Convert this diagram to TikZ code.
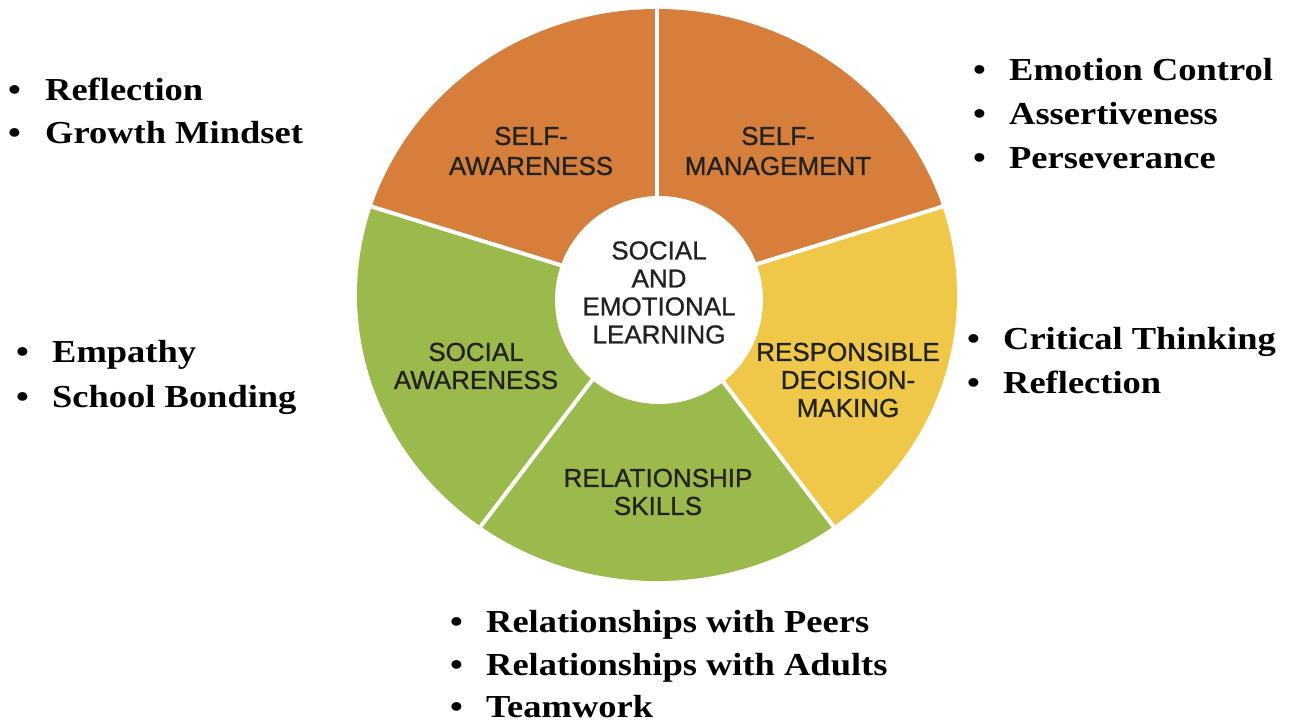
\documentclass[tikz,border=0pt]{standalone}
\usepackage{fontspec}
\setmainfont{Liberation Serif}[FakeStretch=1.14]
\setsansfont{Liberation Sans}
\newfontfamily\wheelfont{Liberation Sans}[FakeBold=0.9]
\definecolor{selorange}{HTML}{D67E3C}
\definecolor{selyellow}{HTML}{EFC84A}
\definecolor{selgreen}{HTML}{9CB94C}
\definecolor{labelgray}{HTML}{222222}
\begin{document}
\begin{tikzpicture}[x=1pt,y=1pt,
  wheeltext/.style={font=\wheelfont\fontsize{26}{28}\selectfont, text=labelgray, align=center, inner sep=0pt},
  bulletline/.style={font=\bfseries\fontsize{32}{40}\selectfont, anchor=base west, inner sep=0pt},
  sepline/.style={white, line width=4pt}]
\path[use as bounding box] (0,0) rectangle (1289,-723);
\coordinate (c) at (657,-295);
% sectors
\fill[selorange] (c) -- ++(90:300 and 286) arc[start angle=90,end angle=162,x radius=300,y radius=286] -- cycle;
\fill[selorange] (c) -- ++(18:300 and 286) arc[start angle=18,end angle=90,x radius=300,y radius=286] -- cycle;
\fill[selyellow] (c) -- ++(-54:300 and 286) arc[start angle=-54,end angle=18,x radius=300,y radius=286] -- cycle;
\fill[selgreen] (c) -- ++(-126:300 and 286) arc[start angle=-126,end angle=-54,x radius=300,y radius=286] -- cycle;
\fill[selgreen] (c) -- ++(162:300 and 286) arc[start angle=162,end angle=234,x radius=300,y radius=286] -- cycle;
% separators
\foreach \a in {90,162,234,306,18}
  \draw[sepline] (c) -- ++(\a:300 and 286);
% core
\node[circle, fill=white, minimum size=208pt, inner sep=0pt] (core) at (659,-300) {};
\node[wheeltext] (coretext) at (659,-292.5) {SOCIAL\\AND\\EMOTIONAL\\LEARNING};
% sector labels
\node[wheeltext, font=\wheelfont\fontsize{26}{30}\selectfont] (saw) at (531,-151) {SELF-\\AWARENESS};
\node[wheeltext, font=\wheelfont\fontsize{26}{30}\selectfont] (smg) at (778,-151) {SELF-\\MANAGEMENT};
\node[wheeltext] (soc) at (476,-366) {SOCIAL\\AWARENESS};
\node[wheeltext] (rdm) at (848,-380) {RESPONSIBLE\\DECISION-\\MAKING};
\node[wheeltext] (rel) at (658,-492) {RELATIONSHIP\\SKILLS};
% bullet lists
\node[bulletline] (l1a) at (8,-100) {\makebox[37pt][l]{\textbullet}Reflection};
\node[bulletline] (l1b) at (8,-143) {\makebox[37pt][l]{\textbullet}Growth Mindset};
\node[bulletline] (r1a) at (973,-80) {\makebox[36pt][l]{\textbullet}Emotion Control};
\node[bulletline] (r1b) at (973,-124) {\makebox[36pt][l]{\textbullet}Assertiveness};
\node[bulletline] (r1c) at (973,-168) {\makebox[36pt][l]{\textbullet}Perseverance};
\node[bulletline] (l2a) at (16,-362) {\makebox[36pt][l]{\textbullet}Empathy};
\node[bulletline] (l2b) at (16,-407) {\makebox[36pt][l]{\textbullet}School Bonding};
\node[bulletline] (r2a) at (967,-349) {\makebox[36pt][l]{\textbullet}Critical Thinking};
\node[bulletline] (r2b) at (967,-393) {\makebox[36pt][l]{\textbullet}Reflection};
\node[bulletline] (b1) at (450,-632) {\makebox[36pt][l]{\textbullet}Relationships with Peers};
\node[bulletline] (b2) at (450,-675) {\makebox[36pt][l]{\textbullet}Relationships with Adults};
\node[bulletline] (b3) at (450,-717) {\makebox[36pt][l]{\textbullet}Teamwork};
\end{tikzpicture}
\end{document}
